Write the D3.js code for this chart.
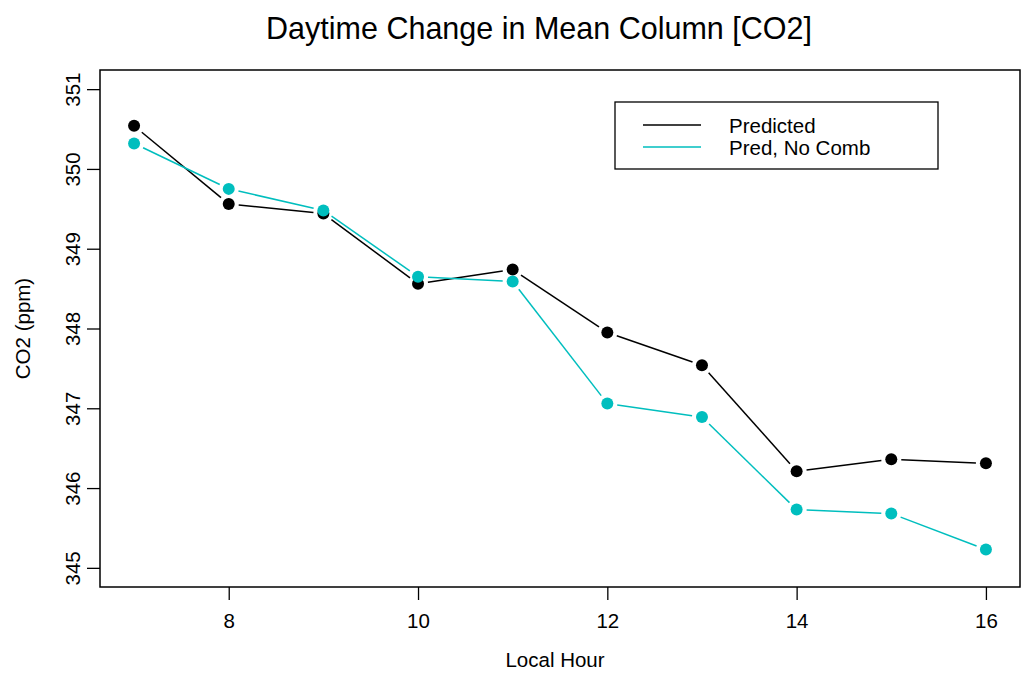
<!DOCTYPE html>
<html lang="en">
<head>
    <meta charset="UTF-8">
    <title>Daytime Change in Mean Column [CO2]</title>
    <script src="https://d3js.org/d3.v7.min.js"></script>
    <style>
        body { margin: 0; background-color: white; }
        text { font-family: "Liberation Sans", Arial, Helvetica, sans-serif; fill: black; }
    </style>
</head>
<body>
    <div id="chart"></div>
    <script>
        // data
        const hours = [7, 8, 9, 10, 11, 12, 13, 14, 15, 16];
        const predicted = [350.54, 349.56, 349.44, 348.56, 348.74, 347.95, 347.54, 346.21, 346.36, 346.31];
        const predNoComb = [350.32, 349.75, 349.48, 348.65, 348.59, 347.06, 346.89, 345.73, 345.68, 345.23];
        const xTicks = [8, 10, 12, 14, 16];
        const yTicks = [345, 346, 347, 348, 349, 350, 351];
        const seriesNames = ["Predicted", "Pred, No Comb"];
        const seriesColors = ["#000000", "#00bebe"];

        const width = 1021, height = 677;
        const box = { left: 100, right: 1020, top: 70, bottom: 587 };
        const labelSize = "20.5px";

        const svg = d3.select("#chart").append("svg")
            .attr("width", width)
            .attr("height", height);

        // R style 4% padding on both axes
        const xPad = (16 - 7) * 0.04;
        const yPad = (351 - 345) * 0.04;
        const x = d3.scaleLinear().domain([7 - xPad, 16 + xPad]).range([box.left, box.right]);
        const y = d3.scaleLinear().domain([345 - yPad, 351 + yPad]).range([box.bottom, box.top]);

        // title
        svg.append("text")
            .attr("x", (box.left + box.right) / 2 - 21)
            .attr("y", 39)
            .attr("text-anchor", "middle")
            .style("font-size", "30.5px")
            .text("Daytime Change in Mean Column [CO2]");

        // axes
        const xAxis = svg.append("g")
            .attr("transform", `translate(0,${box.bottom})`)
            .call(d3.axisBottom(x).tickValues(xTicks).tickSize(13).tickPadding(13).tickFormat(d3.format("d")));
        xAxis.select(".domain").remove();
        xAxis.selectAll("line").attr("stroke", "black").attr("stroke-width", 1.3);
        xAxis.selectAll("text").style("font-size", labelSize).style("font-family", null);

        const yAxis = svg.append("g")
            .attr("transform", `translate(${box.left},0)`)
            .call(d3.axisLeft(y).tickValues(yTicks).tickSize(13).tickFormat(d3.format("d")));
        yAxis.select(".domain").remove();
        yAxis.selectAll("line").attr("stroke", "black").attr("stroke-width", 1.3);
        yAxis.selectAll("text")
            .attr("x", null).attr("dy", null)
            .attr("text-anchor", "middle")
            .attr("transform", "translate(-20,0) rotate(-90)")
            .style("font-size", labelSize)
            .style("font-family", null);

        // axis titles
        svg.append("text")
            .attr("x", 555)
            .attr("y", 667)
            .attr("text-anchor", "middle")
            .style("font-size", labelSize)
            .text("Local Hour");

        svg.append("text")
            .attr("transform", `translate(30,${(box.top + box.bottom) / 2}) rotate(-90)`)
            .attr("text-anchor", "middle")
            .style("font-size", labelSize)
            .text("CO2 (ppm)");

        // plot box
        svg.append("rect")
            .attr("x", box.left)
            .attr("y", box.top)
            .attr("width", box.right - box.left)
            .attr("height", box.bottom - box.top)
            .attr("fill", "none")
            .attr("stroke", "black")
            .attr("stroke-width", 1.5);

        // type="b": segments with a gap round each point
        function drawSeries(values, color) {
            const pts = hours.map((h, i) => [x(h), y(values[i])]);
            const gap = 10;
            const g = svg.append("g");
            for (let i = 0; i < pts.length - 1; i++) {
                const [x1, y1] = pts[i], [x2, y2] = pts[i + 1];
                const len = Math.hypot(x2 - x1, y2 - y1);
                if (len <= 2 * gap) continue;
                const ux = (x2 - x1) / len, uy = (y2 - y1) / len;
                g.append("line")
                    .attr("x1", x1 + ux * gap).attr("y1", y1 + uy * gap)
                    .attr("x2", x2 - ux * gap).attr("y2", y2 - uy * gap)
                    .attr("stroke", color)
                    .attr("stroke-width", 1.5);
            }
            g.selectAll("circle")
                .data(pts)
                .join("circle")
                .attr("cx", d => d[0])
                .attr("cy", d => d[1])
                .attr("r", 6)
                .attr("fill", color);
        }
        drawSeries(predicted, seriesColors[0]);
        drawSeries(predNoComb, seriesColors[1]);

        // legend
        const legend = svg.append("g");
        legend.append("rect")
            .attr("x", 615).attr("y", 102)
            .attr("width", 323).attr("height", 67)
            .attr("fill", "white")
            .attr("stroke", "black")
            .attr("stroke-width", 1.3);
        seriesNames.forEach((name, i) => {
            const ly = 125 + i * 22;
            legend.append("line")
                .attr("x1", 643).attr("x2", 701)
                .attr("y1", ly).attr("y2", ly)
                .attr("stroke", seriesColors[i])
                .attr("stroke-width", 1.5);
            legend.append("text")
                .attr("x", 729)
                .attr("y", ly + 8)
                .style("font-size", labelSize)
                .text(name);
        });
    </script>
</body>
</html>
